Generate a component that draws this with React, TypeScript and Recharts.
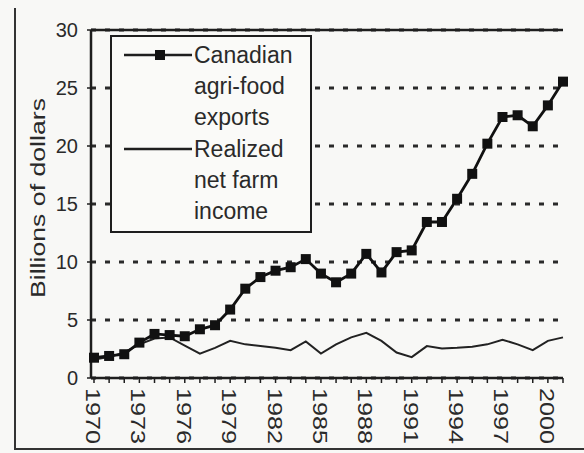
import React from "react";
import {
  LineChart,
  Line,
  XAxis,
  YAxis,
  CartesianGrid,
  ReferenceLine,
} from "recharts";

const years = [
  1970, 1971, 1972, 1973, 1974, 1975, 1976, 1977, 1978, 1979, 1980, 1981,
  1982, 1983, 1984, 1985, 1986, 1987, 1988, 1989, 1990, 1991, 1992, 1993,
  1994, 1995, 1996, 1997, 1998, 1999, 2000, 2001,
];

const agriFoodExports = [
  1.75, 1.9, 2.05, 3.05, 3.8, 3.7, 3.6, 4.2, 4.55, 5.9, 7.7, 8.7, 9.25, 9.55,
  10.25, 9.0, 8.25, 9.0, 10.7, 9.1, 10.85, 11.0, 13.45, 13.45, 15.45, 17.6,
  20.2, 22.5, 22.65, 21.7, 23.5, 25.55,
];

const netFarmIncome = [
  1.6, 1.8, 2.2, 2.9, 3.4, 3.5, 2.8, 2.1, 2.6, 3.2, 2.9, 2.75, 2.6, 2.4, 3.15,
  2.1, 2.9, 3.5, 3.9, 3.2, 2.2, 1.8, 2.75, 2.55, 2.6, 2.7, 2.9, 3.3, 2.9, 2.4,
  3.2, 3.5,
];

const labeledYears = [1970, 1973, 1976, 1979, 1982, 1985, 1988, 1991, 1994, 1997, 2000];
const yTicks = [0, 5, 10, 15, 20, 25, 30];

const exportsLabel = ["Canadian", "agri-food", "exports"];
const incomeLabel = ["Realized", "net farm", "income"];

const data = years.map((year, i) => ({
  year,
  exports: agriFoodExports[i],
  income: netFarmIncome[i],
}));

const FONT = "'Liberation Sans', Arial, sans-serif";
const INK = "#1e1e1e";

function YearTick(props: any) {
  const { x, y, payload } = props;
  if (!labeledYears.includes(payload.value)) return null;
  const tx = x - 1;
  const ty = y;
  return (
    <text
      x={tx}
      y={ty}
      transform={`rotate(90, ${tx}, ${ty})`}
      textAnchor="start"
      dominantBaseline="central"
      fontSize={20}
      fontFamily={FONT}
      fill="#2a2a2a"
      textLength={56}
      lengthAdjust="spacingAndGlyphs"
    >
      {payload.value}
    </text>
  );
}

function SquareDot(props: any) {
  const { cx, cy, index } = props;
  if (cx == null || cy == null) return <g key={index} />;
  return <rect key={index} x={cx - 5} y={cy - 5} width={10} height={10} fill="#111" />;
}

function AxisTitle(props: any) {
  const vb = props.viewBox || {};
  const x = vb.x + 23;
  const y = vb.y + vb.height / 2 - 6;
  return (
    <text
      x={x}
      y={y}
      transform={`rotate(-90, ${x}, ${y})`}
      textAnchor="middle"
      dominantBaseline="central"
      fontSize={20}
      fontFamily={FONT}
      fill="#2a2a2a"
      textLength={200}
      lengthAdjust="spacingAndGlyphs"
    >
      Billions of dollars
    </text>
  );
}

function LegendBox() {
  const entry = (labels: string[], withMarker: boolean, top: number) => (
    <div style={{ position: "absolute", left: 0, top, width: "100%" }}>
      <svg width={80} height={32} style={{ position: "absolute", left: 12, top: 0 }}>
        <line x1={0} y1={16} x2={68} y2={16} stroke={INK} strokeWidth={2.5} />
        {withMarker && <rect x={31} y={11} width={10} height={10} fill="#111" />}
      </svg>
      {labels.map((t, i) => (
        <div
          key={t}
          style={{
            position: "absolute",
            left: 82,
            top: i * 31,
            height: 32,
            lineHeight: "32px",
            fontSize: 23,
            fontFamily: FONT,
            color: "#2a2a2a",
            whiteSpace: "nowrap",
          }}
        >
          {t}
        </div>
      ))}
    </div>
  );
  return (
    <div
      style={{
        position: "absolute",
        left: 110,
        top: 35,
        width: 198,
        height: 194,
        border: `2px solid ${INK}`,
        background: "#fafaf8",
      }}
    >
      {entry(exportsLabel, true, 2)}
      {entry(incomeLabel, false, 96)}
    </div>
  );
}

export default function App() {
  return (
    <div
      style={{
        position: "absolute",
        left: 0,
        top: 0,
        width: 584,
        height: 453,
        background: "#f8f8f6",
        overflow: "hidden",
      }}
    >
      <div style={{ position: "absolute", left: 14, top: 8, width: 2, height: 442, background: "#333" }} />
      <div style={{ position: "absolute", left: 14, top: 448, width: 570, height: 2, background: "#333" }} />
      <LineChart
        width={584}
        height={453}
        data={data}
        margin={{ top: 30, right: 21, bottom: 0, left: 15 }}
      >
        <CartesianGrid
          vertical={false}
          stroke="#2a2a2a"
          strokeWidth={3}
          strokeDasharray="5 9"
        />
        <XAxis
          dataKey="year"
          type="number"
          domain={[1970, 2001]}
          ticks={years}
          interval={0}
          padding={{ left: 3, right: 0 }}
          height={75}
          tickSize={5}
          tickMargin={5}
          axisLine={{ stroke: INK, strokeWidth: 2.5 }}
          tickLine={{ stroke: INK, strokeWidth: 1.5 }}
          tick={<YearTick />}
        />
        <YAxis
          domain={[0, 30]}
          ticks={yTicks}
          interval={0}
          width={76}
          tickSize={4}
          tickMargin={9}
          axisLine={{ stroke: INK, strokeWidth: 2.5 }}
          tickLine={{ stroke: INK, strokeWidth: 1.5 }}
          tick={{ fill: "#2a2a2a", fontSize: 20, fontFamily: FONT }}
          label={<AxisTitle />}
        />
        <YAxis
          yAxisId="right"
          orientation="right"
          domain={[0, 30]}
          width={0}
          tick={false}
          tickLine={false}
          axisLine={{ stroke: INK, strokeWidth: 2.5 }}
        />
        <ReferenceLine y={30} stroke={INK} strokeWidth={2.5} />
        <Line
          type="linear"
          dataKey="income"
          stroke="#222"
          strokeWidth={2}
          dot={false}
          activeDot={false}
          isAnimationActive={false}
        />
        <Line
          type="linear"
          dataKey="exports"
          stroke="#111"
          strokeWidth={2.8}
          dot={<SquareDot />}
          activeDot={false}
          isAnimationActive={false}
        />
      </LineChart>
      <LegendBox />
    </div>
  );
}
